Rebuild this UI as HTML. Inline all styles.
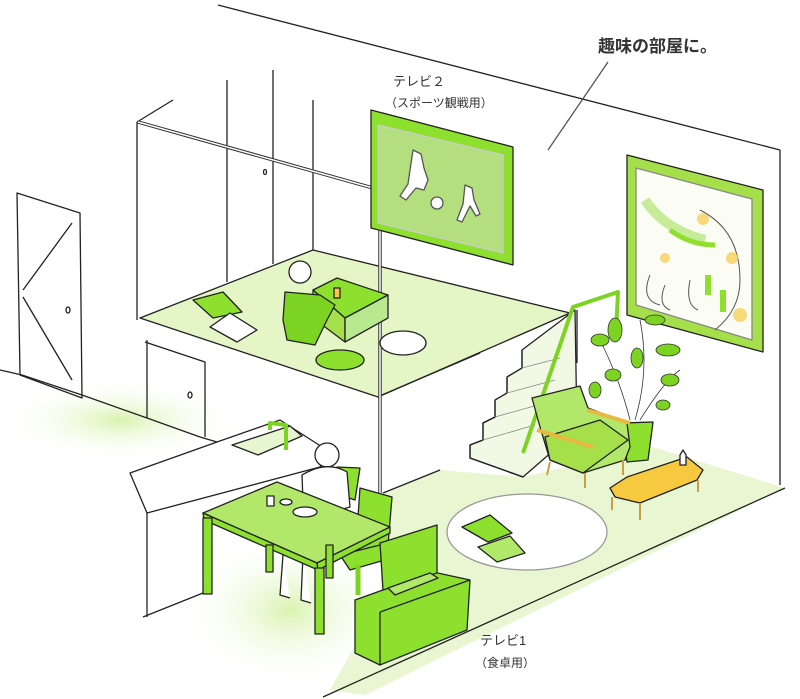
<!DOCTYPE html>
<html><head><meta charset="utf-8"><style>
html,body{margin:0;padding:0;background:#fff;width:800px;height:699px;overflow:hidden}
svg{display:block}
text{font-family:"Liberation Sans","Noto Sans CJK JP",sans-serif;fill:#333}
</style></head><body>
<svg width="800" height="699" viewBox="0 0 800 699" xmlns="http://www.w3.org/2000/svg">
<defs>
<radialGradient id="g1" cx="0.5" cy="0.5" r="0.5"><stop offset="0" stop-color="#d9f3b0"/><stop offset="1" stop-color="#ffffff" stop-opacity="0"/></radialGradient>
</defs>
<polygon points="383,493 440,470 523,477 653,447 785,488 365,695 330,690 380,600" fill="#e8f6d2"/>
<ellipse cx="290" cy="610" rx="110" ry="75" fill="url(#g1)"/>
<ellipse cx="120" cy="420" rx="120" ry="40" fill="url(#g1)"/>
<g stroke="#222" stroke-width="1.3" fill="none" stroke-linejoin="round">
<polyline points="0,370 22,375 82,395 147,418 200,437 217,442"/>
<line x1="143" y1="617" x2="203" y2="593"/>
<line x1="323" y1="697" x2="785" y2="488"/>
<line x1="383" y1="493" x2="440" y2="470"/>
<line x1="218" y1="5" x2="780" y2="150"/>
<line x1="780" y1="150" x2="780" y2="485"/>
<polygon points="140,318 313,250 570,313 378,397" fill="#e4f5c6"/>
<line x1="137" y1="122" x2="137" y2="320"/>
<line x1="313" y1="250" x2="313" y2="100"/>
<line x1="227" y1="80" x2="227" y2="282"/>
<line x1="273" y1="70" x2="273" y2="264"/>
<line x1="137" y1="122" x2="173" y2="100"/>
<ellipse cx="265" cy="172" rx="1.5" ry="2.5"/>
<polyline points="138,122 380,190 380,493" stroke-width="3.5" stroke="#333"/>
<polyline points="138,122 380,190 380,493" stroke-width="1.5" stroke="#fff"/>
<line x1="382" y1="395" x2="480" y2="353"/>
<polyline points="145,342 205,362 205,437"/>
<line x1="147" y1="340" x2="147" y2="418"/>
<ellipse cx="190" cy="395" rx="2" ry="3"/>
<polygon points="17,193 80,213 82,398 20,375"/>
<line x1="72" y1="223" x2="23" y2="290"/>
<line x1="23" y1="297" x2="72" y2="380"/>
<ellipse cx="68" cy="310" rx="2" ry="3"/>
<polygon points="130,473 217,442 280,420 330,452 320,467 147,513" fill="#fff"/>
<line x1="147" y1="513" x2="147" y2="617"/>
<polygon points="232,445 290,426 302,436 258,455" fill="#e6f6d0"/>
<polyline points="270,430 270,423 286,425 286,450" stroke="#7cd321" stroke-width="4"/>
<polygon points="371,110 513,147 513,265 371,228" fill="#8ee02e"/>
<polygon points="378,125 503,155 503,253 378,223" fill="#b3df7e" stroke="#ccc"/>
<circle cx="437" cy="203" r="6" fill="#fff" stroke="#555"/>
<path d="M413,150 l8,4 l3,14 l4,12 l-4,10 l-8,-2 l-10,12 l-6,-4 l8,-12 l2,-14 z" fill="#fff" stroke="#555"/>
<path d="M465,185 l7,3 l2,12 l6,14 l-4,2 l-6,-10 l-8,16 l-5,-2 l6,-16 z" fill="#fff" stroke="#555"/>
<polygon points="627,155 763,190 763,352 627,315" fill="#a5e04a"/>
<polygon points="636,168 752,199 752,340 636,305" fill="#fbfdf5" stroke="#888"/>
<path d="M645,200 q20,30 60,40" stroke="#c6ec9a" stroke-width="10"/>
<path d="M670,230 q20,15 45,15" stroke="#8ee02e" stroke-width="5"/>
<path d="M700,210 q40,20 40,70 q0,30 -25,50" stroke="#555" stroke-width="1"/>
<path d="M650,275 q-10,25 10,30 M665,285 q-8,20 5,25 M690,280 q-5,25 8,30" stroke="#555" stroke-width="1"/>
<rect x="705" y="275" width="6" height="20" fill="#8ee02e" stroke="none"/>
<rect x="720" y="290" width="6" height="22" fill="#8ee02e" stroke="none"/>
<circle cx="703" cy="219" r="6" fill="#f8cf5a" stroke="none" opacity="0.8"/>
<circle cx="732" cy="258" r="6" fill="#f8cf5a" stroke="none" opacity="0.8"/>
<circle cx="665" cy="258" r="5" fill="#f8cf5a" stroke="none" opacity="0.8"/>
<circle cx="740" cy="315" r="7" fill="#f8cf5a" stroke="none" opacity="0.8"/>
<line x1="548" y1="150" x2="608" y2="62" stroke="#555"/>
<polygon points="193,300 223,292 242,312 213,318" fill="#8ee02e"/>
<polygon points="210,327 230,313 257,330 237,342" fill="#fff"/>
<polygon points="313,290 337,278 388,295 345,318" fill="#8ee02e"/>
<polygon points="313,290 345,318 345,342 313,318" fill="#a5e04a"/>
<polygon points="345,318 388,295 388,318 345,342" fill="#b8e890"/>
<polygon points="285,292 320,295 335,305 327,320 315,345 287,340 283,320" fill="#7cd321"/>
<circle cx="300" cy="272" r="11" fill="#fff"/>
<rect x="334" y="288" width="6" height="10" fill="#f4c94a"/>
<ellipse cx="340" cy="360" rx="24" ry="10" fill="#8ee02e"/>
<ellipse cx="403" cy="343" rx="23" ry="12" fill="#fff"/>
<polygon points="522,350 575,310 577,430 523,477 470,458 470,445 483,440 483,423 495,417 495,400 507,393 507,377 522,368" fill="#f1f9e4"/>
<polyline points="522,350 522,368 507,377 507,393 495,400 495,417 483,423 483,440 470,445 470,458 523,477"/>
<g stroke="#888" stroke-width="0.8"><line x1="522" y1="368" x2="560" y2="358"/><line x1="507" y1="393" x2="555" y2="380"/><line x1="495" y1="417" x2="545" y2="403"/><line x1="483" y1="440" x2="535" y2="425"/></g>
<polyline points="523,453 573,307 618,292 616,333" stroke="#7cd321" stroke-width="4"/>
<line x1="577" y1="310" x2="577" y2="363"/>
<g stroke="#333" stroke-width="0.8"><path d="M630,420 q-10,-40 -30,-80 M635,420 q15,-50 5,-100 M640,420 q25,-40 40,-50"/></g>
<g fill="#7cd321" stroke="#333" stroke-width="0.8"><ellipse cx="600" cy="340" rx="9" ry="6"/><ellipse cx="615" cy="330" rx="7" ry="12"/><ellipse cx="637" cy="358" rx="6" ry="10"/><ellipse cx="668" cy="350" rx="12" ry="6"/><ellipse cx="670" cy="380" rx="9" ry="6"/><ellipse cx="613" cy="375" rx="8" ry="6"/><ellipse cx="595" cy="390" rx="6" ry="8"/><ellipse cx="655" cy="320" rx="10" ry="5"/><ellipse cx="663" cy="405" rx="7" ry="5"/></g>
<polygon points="622,423 653,422 648,460 627,462" fill="#8ee02e"/>
<polygon points="532,398 580,386 588,408 627,423 630,447 625,460 583,473 550,460 540,427" fill="#b2e86a"/>
<polygon points="545,437 600,420 628,440 583,473 550,460" fill="#a5e04a"/>
<line x1="537" y1="430" x2="593" y2="447" stroke="#e8b93e" stroke-width="4"/>
<line x1="587" y1="410" x2="630" y2="423" stroke="#e8b93e" stroke-width="4"/>
<g stroke="#c9a040" stroke-width="2"><line x1="550" y1="462" x2="547" y2="475"/><line x1="585" y1="473" x2="585" y2="488"/><line x1="623" y1="460" x2="623" y2="475"/></g>
<polygon points="610,488 627,477 687,457 703,470 697,480 640,503 615,497" fill="#f7c93e"/>
<g stroke="#c9a040" stroke-width="2"><line x1="612" y1="497" x2="612" y2="510"/><line x1="640" y1="503" x2="640" y2="520"/><line x1="698" y1="480" x2="698" y2="492"/></g>
<path d="M680,465 l0,-10 l3,-5 l3,5 l0,10 z" fill="#fff"/>
<ellipse cx="527" cy="532" rx="80" ry="38" fill="#fff" stroke="#999"/>
<polygon points="462,527 490,515 512,533 488,542" fill="#8ee02e"/>
<polygon points="478,547 510,536 525,553 497,562" fill="#b2e86a"/>
<polygon points="337,467 360,468 355,500 340,495" fill="#8ee02e"/>
<polygon points="360,488 392,497 388,545 355,560" fill="#8ee02e"/>
<polygon points="340,555 380,545 385,560 350,570" fill="#8ee02e"/>
<line x1="358" y1="565" x2="358" y2="595" stroke="#7cd321" stroke-width="5"/>
<circle cx="327" cy="455" r="12" fill="#fff"/>
<path d="M302,475 q25,-15 45,-3 l3,35 l-35,10 l-12,-15 z" fill="#fff"/>
<path d="M283,555 l-3,40 l10,3 M303,555 l-2,45 l10,3" fill="#fff"/>
<polygon points="203,513 277,482 390,527 317,563" fill="#b2e86a"/>
<polygon points="203,513 317,563 318,570 204,520" fill="#8ee02e"/>
<polygon points="317,563 390,527 390,533 318,570" fill="#8ee02e"/>
<g fill="#8ee02e"><rect x="203" y="518" width="9" height="76"/><rect x="315" y="568" width="9" height="66"/><rect x="266" y="545" width="7" height="27"/><rect x="326" y="545" width="7" height="33"/></g>
<rect x="267" y="496" width="7" height="10" fill="#fff"/>
<ellipse cx="305" cy="512" rx="12" ry="5" fill="#fff"/>
<ellipse cx="286" cy="502" rx="6" ry="3" fill="#fff"/>
<polygon points="355,600 433,572 470,580 467,630 380,665 355,653" fill="#8ee02e"/>
<line x1="380" y1="612" x2="380" y2="665"/><line x1="380" y1="612" x2="470" y2="580"/>
<polygon points="380,543 437,525 437,573 383,590" fill="#8ee02e"/>
<polygon points="388,588 430,573 438,578 395,595" fill="#b2e86a"/>
</g>
<text x="598" y="52" font-size="17" font-weight="bold" fill="#333">趣味の部屋に。</text>
<text x="393" y="86" font-size="13">テレビ２</text>
<text x="385" y="107" font-size="12">（スポーツ観戦用）</text>
<text x="480" y="645" font-size="13">テレビ1</text>
<text x="475" y="667" font-size="12">（食卓用）</text>
</svg>
</body></html>
